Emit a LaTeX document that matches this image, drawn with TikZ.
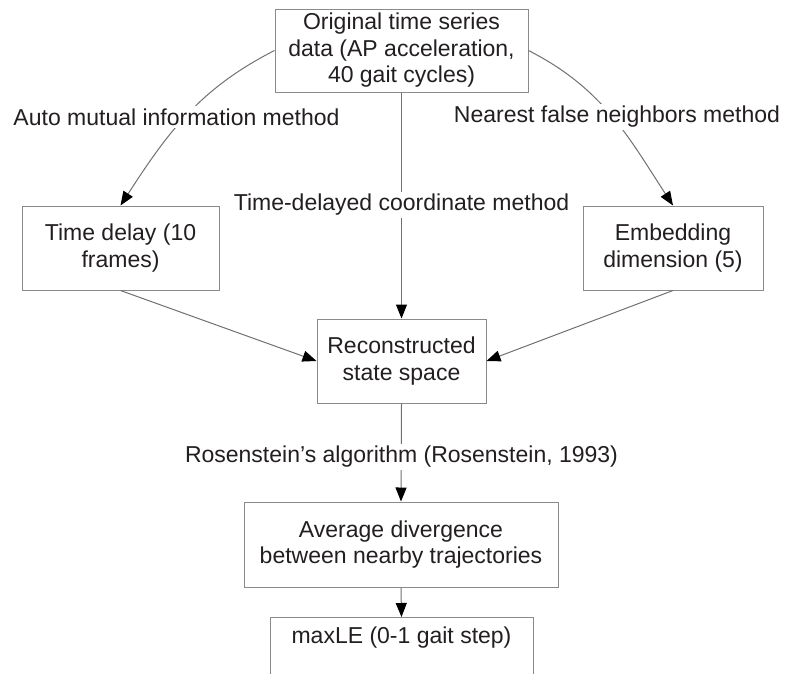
\documentclass[tikz,border=0pt]{standalone}
\usepackage{fontspec}
\setmainfont{Liberation Sans}
\usetikzlibrary{arrows.meta}
\definecolor{boxgray}{HTML}{8A8A8A}
\definecolor{linegray}{HTML}{707070}
\definecolor{txt}{HTML}{231F20}
\begin{document}
\begin{tikzpicture}[x=1pt,y=1pt,
  box/.style={draw=boxgray, line width=1pt, fill=white, align=center, text=txt,
    font=\fontsize{23}{26.5}\selectfont, inner sep=0pt},
  lbl/.style={fill=white, inner sep=2.5pt, text=txt, font=\fontsize{23}{26.5}\selectfont},
  conn/.style={draw=linegray, line width=1pt, -{Triangle[length=14pt,width=11pt,color=black]}}]
\useasboundingbox (0,0) rectangle (789,-673);
\clip (0,0) rectangle (789,-673);
% boxes
\node[box, minimum width=253pt, minimum height=83pt] (orig) at (401.5,-50.5)
  {Original time series\\data (AP acceleration,\\40 gait cycles)};
\node[box, minimum width=197pt, minimum height=84pt] (tdel) at (120.5,-248)
  {Time delay (10\\frames)};
\node[box, minimum width=180pt, minimum height=84pt] (emb) at (673,-248)
  {Embedding\\dimension (5)};
\node[box, minimum width=169pt, minimum height=84pt] (rec) at (401.5,-361)
  {Reconstructed\\state space};
\node[box, minimum width=314pt, minimum height=85pt] (avg) at (401,-544.5)
  {Average divergence\\between nearby trajectories};
\node[box, minimum width=263pt, anchor=north, inner ysep=9pt, text height=17pt, text depth=60pt] (maxle) at (401.5,-617)
  {maxLE (0-1 gait step)};
% connectors
\draw[conn] (orig.west) to[out=207,in=57] (tdel.north);
\draw[conn] (orig.east) to[out=-27,in=123] (emb.north);
\draw[conn] (orig.south) -- (rec.north);
\draw[conn] (tdel.south) -- (rec.west);
\draw[conn] (emb.south) -- (rec.east);
\draw[conn] (rec.south) -- (avg.north);
\draw[conn] (avg.south) -- (maxle.north);
% labels
\node[lbl] (l1) at (176.5,-117) {Auto mutual information method};
\node[lbl] (l2) at (617,-117) {Nearest false neighbors method};
\node[lbl] (l3) at (401.5,-205) {Time-delayed coordinate method};
\node[lbl] (l4) at (401.5,-457) {Rosenstein’s algorithm (Rosenstein, 1993)};
\end{tikzpicture}
\end{document}
